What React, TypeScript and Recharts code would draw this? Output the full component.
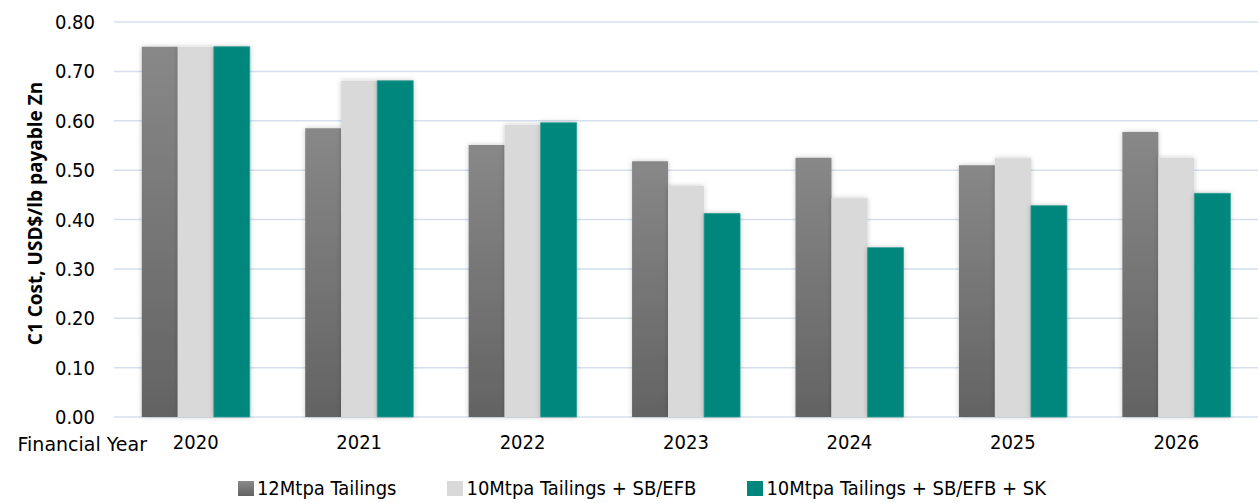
import React from "react";
import { BarChart, Bar, XAxis, YAxis, CartesianGrid, Legend } from "recharts";

const years = ["2020", "2021", "2022", "2023", "2024", "2025", "2026"];
const tailings12 = [0.75, 0.585, 0.551, 0.518, 0.525, 0.51, 0.577];
const tailings10SbEfb = [0.75, 0.681, 0.592, 0.468, 0.443, 0.524, 0.525];
const tailings10SbEfbSk = [0.75, 0.681, 0.596, 0.412, 0.343, 0.428, 0.453];
const yTicks = [0, 0.1, 0.2, 0.3, 0.4, 0.5, 0.6, 0.7, 0.8];

const seriesNames = ["12Mtpa Tailings", "10Mtpa Tailings + SB/EFB", "10Mtpa Tailings + SB/EFB + SK"];

const data = years.map((year, i) => ({
  year,
  t12: tailings12[i],
  t10: tailings10SbEfb[i],
  t10sk: tailings10SbEfbSk[i],
}));

const FONT = "'DejaVu Sans Condensed', 'DejaVu Sans', sans-serif";
const TEAL = "#00877D";
const LIGHT = "#D9D9D9";

const legendFills = ["url(#darkGrad)", LIGHT, TEAL];

const CostLegend = () => (
  <div
    style={{
      display: "flex",
      justifyContent: "center",
      alignItems: "center",
      height: 30,
      paddingLeft: 26,
      fontFamily: FONT,
      fontStretch: "condensed",
      fontSize: 20,
      color: "#000",
    }}
  >
    {seriesNames.map((name, i) => (
      <div key={name} style={{ display: "flex", alignItems: "center", marginRight: i < 2 ? 51 : 0 }}>
        <svg width={16} height={15} style={{ marginRight: 3 }}>
          <defs>
            <linearGradient id="darkGrad" x1="0" y1="0" x2="0" y2="1">
              <stop offset="0%" stopColor="#8A8A8A" />
              <stop offset="100%" stopColor="#626262" />
            </linearGradient>
          </defs>
          <rect x={0} y={0} width={16} height={15} fill={legendFills[i]} />
        </svg>
        <span>{name}</span>
      </div>
    ))}
  </div>
);

const YLabel = ({ viewBox }: any) => {
  const cy = viewBox.y + viewBox.height / 2 - 6;
  return (
    <text
      x={35}
      y={cy}
      transform={`rotate(-90, 35, ${cy})`}
      textAnchor="middle"
      dominantBaseline="central"
      fontFamily="'Open Sans', sans-serif"
      fontWeight="bold"
      fontSize={19}
      fill="#000"
    >
      C1 Cost, USD$/lb payable Zn
    </text>
  );
};

// axis title sits to the left of the first category label
const XLabel = ({ viewBox }: any) => (
  <text
    x={viewBox.x + 33}
    y={viewBox.y + 27}
    textAnchor="end"
    dominantBaseline="central"
    fontFamily="'DejaVu Sans', sans-serif"
    fontSize={19}
    fill="#000"
  >
    Financial Year
  </text>
);

export default function App() {
  const tickStyle = { fontFamily: FONT, fontSize: 20, fill: "#000", fontStretch: "condensed" } as any;
  return (
    <div style={{ width: 1259, height: 503, background: "#fff" }}>
      <style>{"body{margin:0}"}</style>
      <BarChart
        width={1259}
        height={503}
        data={data}
        margin={{ top: 22, right: 1, left: 0, bottom: 0 }}
        barCategoryGap="17%"
        barGap={0}
      >
        <defs>
          <linearGradient id="barDark" x1="0" y1="0" x2="0" y2="1">
            <stop offset="0%" stopColor="#888888" />
            <stop offset="100%" stopColor="#636363" />
          </linearGradient>
          <filter id="barShadow" x="-20%" y="-10%" width="140%" height="120%">
            <feDropShadow dx="0" dy="0" stdDeviation="2.5" floodColor="#000" floodOpacity="0.22" />
          </filter>
        </defs>
        <CartesianGrid vertical={false} stroke="#D5DFEE" strokeWidth={1.5} />
        <XAxis
          dataKey="year"
          height={56}
          axisLine={false}
          tickLine={false}
          tickSize={0}
          tickMargin={18}
          tick={tickStyle}
          label={<XLabel />}
        />
        <YAxis
          width={114}
          domain={[0, 0.8]}
          ticks={yTicks}
          axisLine={false}
          tickLine={false}
          tickSize={0}
          tickMargin={19}
          tick={tickStyle}
          tickFormatter={(v: number) => v.toFixed(2)}
          label={<YLabel />}
        />
        <Legend verticalAlign="bottom" content={<CostLegend />} />
        <Bar dataKey="t12" name={seriesNames[0]} fill="url(#barDark)" filter="url(#barShadow)" isAnimationActive={false} />
        <Bar dataKey="t10" name={seriesNames[1]} fill={LIGHT} filter="url(#barShadow)" isAnimationActive={false} />
        <Bar dataKey="t10sk" name={seriesNames[2]} fill={TEAL} stroke="#2E9C93" strokeWidth={0.8} filter="url(#barShadow)" isAnimationActive={false} />
      </BarChart>
    </div>
  );
}
